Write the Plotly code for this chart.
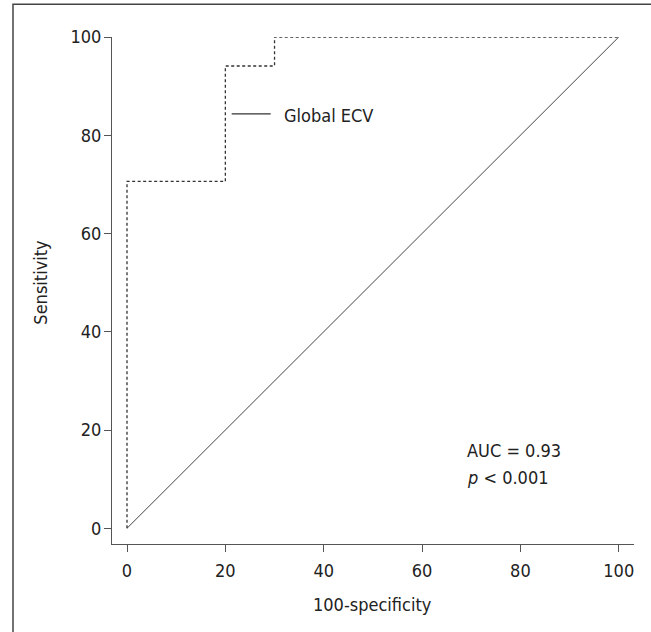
import plotly.graph_objects as go

# ROC data (100-specificity vs sensitivity)
fpr = [0, 0, 20, 30, 100]
tpr = [0, 70.6, 94.1, 100, 100]
ref_x = [0, 100]
ref_y = [0, 100]
tick_vals = [0, 20, 40, 60, 80, 100]
tick_text = ["0", "20", "40", "60", "80", "100"]
series_name = "Global ECV"
auc_text = "AUC = 0.93"
p_text = "<i>p</i> &lt; 0.001"

FONT = "Liberation Sans Narrow, DejaVu Sans Condensed, Arial Narrow, sans-serif"
TXT = "#222222"
AX = "#555555"

fig = go.Figure()
fig.add_trace(go.Scatter(x=ref_x, y=ref_y, mode="lines",
                         line=dict(color="#444444", width=1), showlegend=False,
                         hoverinfo="skip", cliponaxis=False))
fig.add_trace(go.Scatter(x=fpr, y=tpr, mode="lines", line_shape="hv",
                         line=dict(color="#333333", width=1.3, dash="3px,2.5px"),
                         showlegend=False, cliponaxis=False, name=series_name))

fig.update_layout(
    width=651, height=632,
    margin=dict(l=112, r=17, t=37, b=88),
    paper_bgcolor="white", plot_bgcolor="white",
    font=dict(family=FONT, size=18, color=TXT),
    showlegend=False,
    xaxis=dict(range=[-3.05, 103.1], tickvals=tick_vals, ticktext=tick_text,
               showline=True, linecolor=AX, linewidth=1.2, ticks="outside",
               ticklen=7, tickcolor=AX, tickwidth=1.2, showgrid=False, zeroline=False,
               ticklabelstandoff=3,
               tickfont=dict(size=18, color=TXT)),
    yaxis=dict(range=[-3.2, 100], tickvals=tick_vals, ticktext=tick_text,
               showline=True, linecolor=AX, linewidth=1.2, ticks="outside",
               ticklen=7, tickcolor=AX, tickwidth=1.2, showgrid=False, zeroline=False,
               ticklabelstandoff=-1,
               tickfont=dict(size=18, color=TXT)),
)

# frame (left & top border of the figure panel)
fig.add_shape(type="rect", xref="paper", yref="paper",
              x0=(13 - 112) / 522, x1=2, y0=-2, y1=(544 - 4) / 507.3,
              line=dict(color="#444444", width=1.5), layer="below")

# axis titles
fig.add_annotation(text="Sensitivity", xref="paper", yref="y", x=(41 - 112) / 522, y=50,
                   textangle=-90, showarrow=False, xanchor="center", yanchor="middle",
                   font=dict(size=18, color=TXT))
fig.add_annotation(text="100-specificity", xref="x", yref="paper", x=50, y=(544 - 605) / 507.3,
                   showarrow=False, xanchor="center", yanchor="middle",
                   font=dict(size=18, color=TXT))

# legend-like key
fig.add_shape(type="line", xref="paper", yref="paper",
              x0=(231.7 - 112) / 522, x1=(270.7 - 112) / 522,
              y0=(544 - 113.7) / 507.3, y1=(544 - 113.7) / 507.3,
              line=dict(color="#333333", width=1.2))
fig.add_annotation(text=series_name, xref="paper", yref="paper",
                   x=(282 - 112) / 522, y=(544 - 115.5) / 507.3,
                   xanchor="left", yanchor="middle", showarrow=False,
                   font=dict(size=18, color=TXT))

fig.add_annotation(text=auc_text, xref="paper", yref="paper",
                   x=(465 - 112) / 522, y=(544 - 450.7) / 507.3,
                   xanchor="left", yanchor="middle", showarrow=False,
                   font=dict(size=18, color=TXT))
fig.add_annotation(text=p_text, xref="paper", yref="paper",
                   x=(465 - 112) / 522, y=(544 - 477) / 507.3,
                   xanchor="left", yanchor="middle", showarrow=False,
                   font=dict(size=18, color=TXT))

fig.write_html("out.html")
